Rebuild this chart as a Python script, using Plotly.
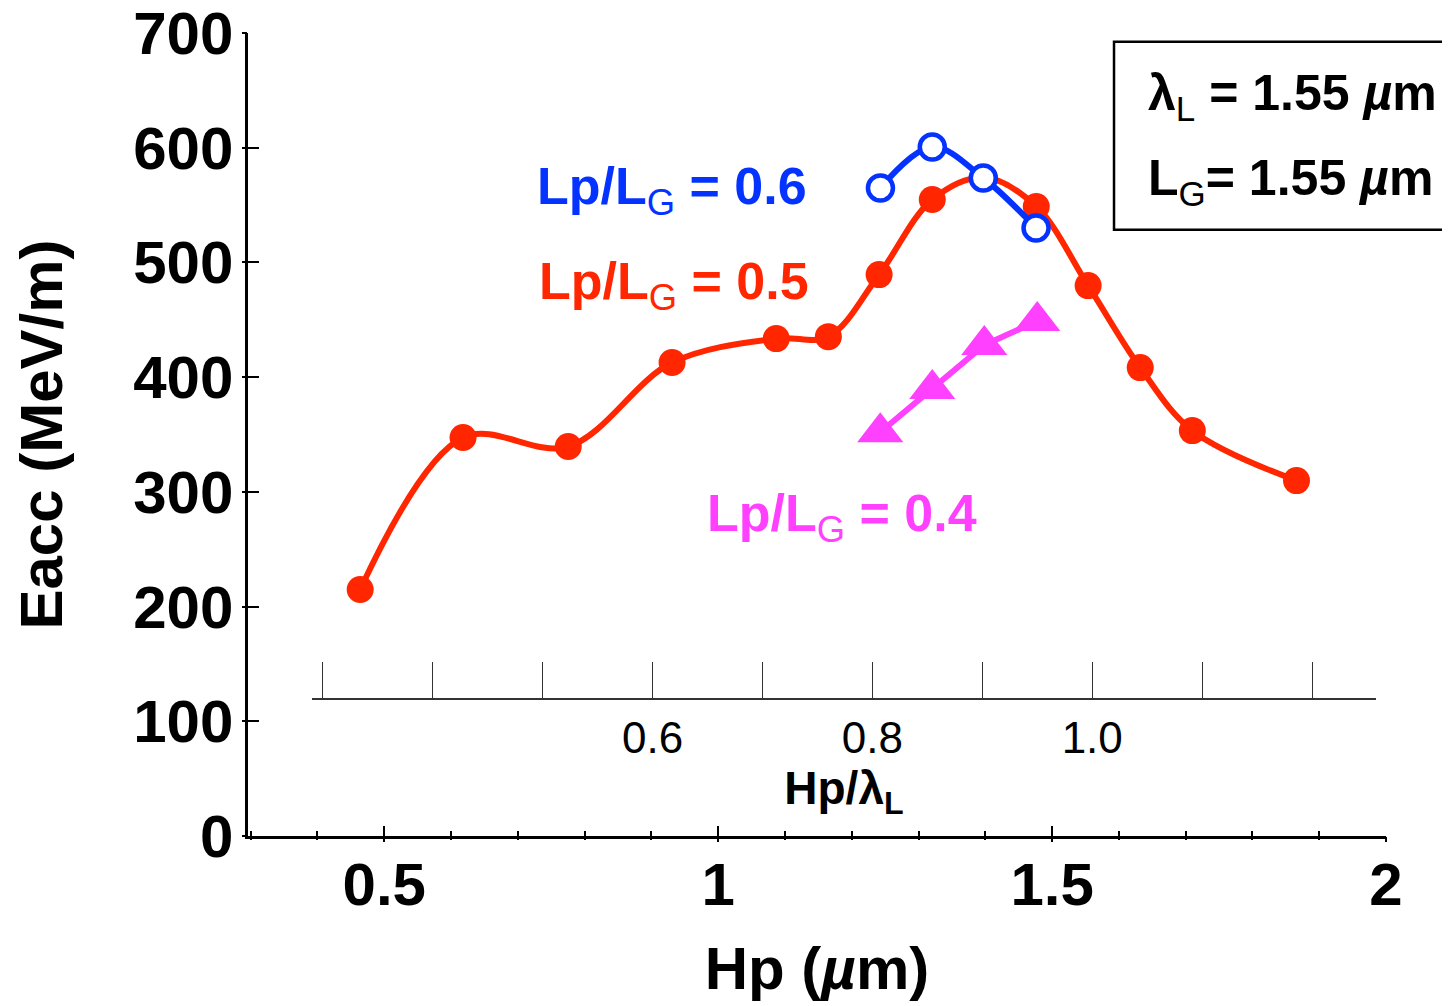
import plotly.graph_objects as go

# ---- data ----
hp_red = [0.464, 0.618, 0.7755, 0.931, 1.087, 1.165, 1.241, 1.3206, 1.398, 1.4763, 1.554, 1.632, 1.710, 1.866]
eacc_red = [214.9, 347.4, 339.5, 412.7, 433.6, 435.3, 489.4, 554.8, 574.0, 548.7, 479.8, 408.3, 353.4, 309.8]

hp_blue = [1.243, 1.3206, 1.397, 1.476]
eacc_blue = [564.9, 600.6, 573.6, 530.0]

hp_mag = [1.2427, 1.3206, 1.3985, 1.4778]
eacc_mag = [352.0, 389.7, 428.0, 449.0]

x_ticks = [0.5, 1.0, 1.5, 2.0]
x_ticktext = ["0.5", "1", "1.5", "2"]
y_ticks = [0, 100, 200, 300, 400, 500, 600, 700]
x2_ticks = [0.3, 0.4, 0.5, 0.6, 0.7, 0.8, 0.9, 1.0, 1.1, 1.2]
x2_ticktext = ["", "", "", "0.6", "", "0.8", "", "1.0", "", ""]

RED = "#ff2600"
BLUE = "#0433ff"
MAG = "#ff40ff"
FONT = "Liberation Sans"

fig = go.Figure()

# dummy traces to instantiate helper axes (drawn first, below the data)
fig.add_trace(go.Scatter(x=[None], y=[None], xaxis="x2", yaxis="y", showlegend=False, hoverinfo="skip"))
fig.add_trace(go.Scatter(x=[None], y=[None], xaxis="x3", yaxis="y", showlegend=False, hoverinfo="skip"))
fig.add_trace(go.Scatter(x=[None], y=[None], xaxis="x", yaxis="y2", showlegend=False, hoverinfo="skip"))

fig.add_trace(go.Scatter(x=hp_red, y=eacc_red, mode="lines+markers",
                         line=dict(color=RED, width=6, shape="spline", smoothing=1.0),
                         marker=dict(size=27, color=RED), showlegend=False))
fig.add_trace(go.Scatter(x=hp_blue, y=eacc_blue, mode="lines+markers",
                         line=dict(color=BLUE, width=6, shape="spline", smoothing=1.0),
                         marker=dict(size=25, color="white", line=dict(color=BLUE, width=4.5)),
                         showlegend=False))
fig.add_trace(go.Scatter(x=hp_mag, y=eacc_mag, mode="lines+markers",
                         line=dict(color=MAG, width=6),
                         marker=dict(size=40, color=MAG, symbol="triangle-up"),
                         showlegend=False))

XR = [0.296, 2.0]
YR = [0, 700]

fig.update_layout(
    template="none",
    width=1450, height=1006,
    margin=dict(l=240, r=72, t=25, b=178, autoexpand=False),
    paper_bgcolor="white", plot_bgcolor="rgba(0,0,0,0)",
    font=dict(family=FONT, color="black"),
    xaxis=dict(range=XR, automargin=False, showgrid=False, zeroline=False, showline=True, linecolor="black",
               linewidth=2.5, ticklabeloverflow="allow",
               tickvals=x_ticks, ticktext=x_ticktext, ticks="inside", ticklen=10, tickwidth=2, tickcolor="black",
               minor=dict(dtick=0.1, tick0=0, ticks="inside", ticklen=5, tickwidth=2, tickcolor="black"),
               tickfont=dict(family=FONT, size=60, color="black", weight="bold"),
               ticklabelstandoff=-6,
               title=dict(text="Hp (<i>µ</i>m)", font=dict(family=FONT, size=60, weight="bold"), standoff=31)),
    xaxis3=dict(range=XR, automargin=False, overlaying="x", anchor="y", side="bottom", showgrid=False,
                zeroline=False, showline=False, showticklabels=False, tickvals=x_ticks, ticks="outside",
                ticklen=5, tickwidth=2, tickcolor="black",
                minor=dict(dtick=0.1, tick0=0, ticks="outside", ticklen=3, tickwidth=2, tickcolor="black")),
    xaxis2=dict(range=[0.29, 1.2582], domain=[0.0562, 0.9912], anchor="free", position=0.17,
                automargin=False, showgrid=False, zeroline=False, showline=True, linecolor="#333333",
                linewidth=1.5, ticklabeloverflow="allow",
                tickvals=x2_ticks, ticktext=x2_ticktext, ticks="inside", ticklen=37, tickwidth=1.2,
                tickcolor="#333333",
                tickfont=dict(family=FONT, size=44, color="black"),
                title=dict(text="<b>Hp/λ</b><sub><b>L</b></sub>", font=dict(family=FONT, size=46), standoff=0)),
    yaxis=dict(range=YR, automargin=False, showgrid=False, zeroline=False, showline=True, linecolor="black",
               linewidth=2.5, ticklabeloverflow="allow",
               tickvals=y_ticks, ticks="inside", ticklen=11, tickwidth=2, tickcolor="black",
               tickfont=dict(family=FONT, size=60, color="black", weight="bold"),
               ticklabelstandoff=0,
               title=dict(text="Eacc (MeV/m)", font=dict(family=FONT, size=60, weight="bold"), standoff=54)),
    yaxis2=dict(range=YR, automargin=False, overlaying="y", anchor="x", side="left", showgrid=False,
                zeroline=False, showline=False, showticklabels=False, tickvals=y_ticks, ticks="outside",
                ticklen=5, tickwidth=2, tickcolor="black"),
)

# series labels
fig.add_annotation(x=0.726, y=563, xref="x", yref="y", xanchor="left", yanchor="middle", showarrow=False,
                   text="<b>Lp/L</b><sub>G</sub><b> = 0.6</b>", font=dict(family=FONT, size=52, color=BLUE))
fig.add_annotation(x=0.729, y=480, xref="x", yref="y", xanchor="left", yanchor="middle", showarrow=False,
                   text="<b>Lp/L</b><sub>G</sub><b> = 0.5</b>", font=dict(family=FONT, size=52, color=RED))
fig.add_annotation(x=0.981, y=278, xref="x", yref="y", xanchor="left", yanchor="middle", showarrow=False,
                   text="<b>Lp/L</b><sub>G</sub><b> = 0.4</b>", font=dict(family=FONT, size=52, color=MAG))

# parameter box
fig.add_shape(type="rect", xref="paper", yref="paper", x0=0.761, x1=1.08, y0=0.755, y1=0.989,
              line=dict(color="black", width=2.5), fillcolor="rgba(0,0,0,0)", layer="above")
fig.add_annotation(x=0.789, y=0.921, xref="paper", yref="paper", xanchor="left", yanchor="middle",
                   showarrow=False, text="<b>λ</b><sub>L</sub><b> = 1.55 <i>µ</i>m</b>",
                   font=dict(family=FONT, size=50, color="black"))
fig.add_annotation(x=0.789, y=0.815, xref="paper", yref="paper", xanchor="left", yanchor="middle",
                   showarrow=False, text="<b>L</b><sub>G</sub><b>= 1.55 <i>µ</i>m</b>",
                   font=dict(family=FONT, size=50, color="black"))

fig.write_html("out.html")
